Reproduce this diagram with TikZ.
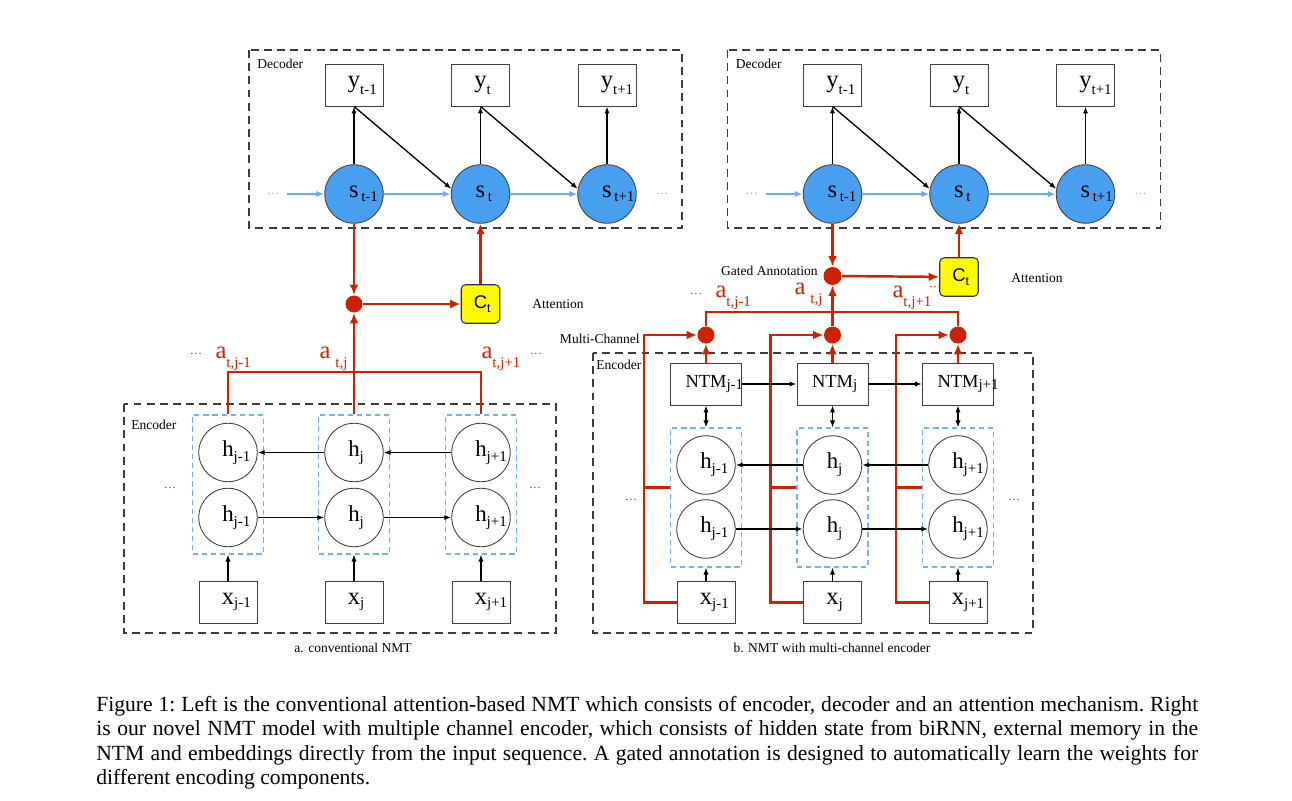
\documentclass[tikz,border=0pt]{standalone}
\usepackage{fontspec}
\setmainfont{Liberation Serif}
\newfontfamily\helv{Liberation Sans}
\usetikzlibrary{arrows.meta, positioning}

\definecolor{attred}{RGB}{204,34,0}
\definecolor{stateblue}{RGB}{74,160,240}
\definecolor{lineblue}{RGB}{95,175,245}
\definecolor{grpblue}{RGB}{110,178,240}
\definecolor{ctxyellow}{RGB}{255,250,0}
\definecolor{framegray}{RGB}{60,60,60}

% letter with hanging subscript
\newcommand{\lbl}[3][3pt]{#2\rlap{\raisebox{-#1}{\fontsize{8.5}{8.5}\selectfont #3}}}
\newcommand{\albl}[2]{{\fontsize{14}{14}\selectfont #1}\rlap{\smash{\raisebox{-5pt}{\fontsize{8.5}{8.5}\selectfont #2}}}}
\newcommand{\ctxlbl}{{\helv\fontsize{10.5}{10.5}\selectfont C\rlap{\raisebox{-2pt}{\fontsize{7}{7}\selectfont t}}}}

\tikzset{
  frame/.style={draw=framegray, dash pattern=on 4.5pt off 3pt, line width=0.6pt},
  grp/.style={draw=grpblue, dash pattern=on 3pt off 2.2pt, line width=0.6pt, minimum width=1.42cm, minimum height=2.78cm, inner sep=0},
  wbox/.style={draw=black!75, minimum width=1.16cm, minimum height=0.84cm, inner sep=0, line width=0.5pt, font=\fontsize{14}{14}\selectfont},
  ntmbox/.style={wbox, minimum width=1.42cm, font=\fontsize{10.5}{10.5}\selectfont},
  hstate/.style={circle, draw=black!75, minimum size=1.17cm, inner sep=0, line width=0.5pt, font=\fontsize{13}{13}\selectfont},
  sstate/.style={hstate, fill=stateblue, font=\fontsize{14}{14}\selectfont},
  ctx/.style={draw=black!80, fill=ctxyellow, rounded corners=2.5pt, minimum size=0.77cm, inner sep=0, line width=0.6pt},
  rdot/.style={circle, fill=attred, minimum size=0.34cm, inner sep=0},
  blk/.style={-{Latex[length=4pt,width=3pt]}, line width=0.75pt},
  dblk/.style={{Latex[length=4pt,width=3pt]}-{Latex[length=4pt,width=3pt]}, line width=0.75pt},
  blu/.style={-{Latex[length=4.5pt,width=3.5pt]}, draw=lineblue, line width=0.9pt},
  attnline/.style={draw=attred, line width=1.4pt},
  attn/.style={attnline, -{Latex[length=6pt,width=5pt]}},
  lab/.style={font=\fontsize{7.7}{9}\selectfont, inner sep=0},
  alab/.style={text=attred, inner sep=0},
  dots/.style={font=\fontsize{7}{7}\selectfont, inner sep=4.5pt, text=black!70}
}

\begin{document}
\begin{tikzpicture}[x=0.02cm, y=-0.02cm]
\useasboundingbox (0,0) rectangle (1292,801);

% decoder, same in both panels
\foreach \p/\dx in {L/0, R/478.5}{
  \draw[frame] (\dx+249,50) rectangle (\dx+682,228);
  \node[lab, anchor=west] (\p dec) at (\dx+257,64) {Decoder};
  \node[wbox] (\p y1) at (\dx+354,85) {\lbl[4pt]{y}{t-1}};
  \node[wbox] (\p y2) at (\dx+480.5,85) {\lbl[4pt]{y}{t}};
  \node[wbox] (\p y3) at (\dx+607,85) {\lbl[4pt]{y}{t+1}};
  \node[sstate] (\p s1) at (\dx+354,194) {\lbl[2pt]{s}{\,t-1}};
  \node[sstate] (\p s2) at (\dx+480.5,194) {\lbl[2pt]{s}{\,t}};
  \node[sstate] (\p s3) at (\dx+607,194) {\lbl[2pt]{s}{\,t+1}};
  \node[dots, text=lineblue] (\p dl) at (\dx+273,194) {\dots};
  \node[dots, text=lineblue] (\p dr) at (\dx+662,194) {\dots};
  \draw[blu] (\p dl) -- (\p s1);
  \draw[blu] (\p s1) -- (\p s2);
  \draw[blu] (\p s2) -- (\p s3);
  \draw[blk] (\p s1) -- (\p y1);
  \draw[blk] (\p s2) -- (\p y2);
  \draw[blk] (\p s3) -- (\p y3);
  \draw[blk] (\p y1.south) -- (\p s2.170);
  \draw[blk] (\p y2.south) -- (\p s3.170);
}

% a. conventional attention
\node[rdot] (Ldot) at (354,304) {};
\node[ctx] (Lctx) at (480.5,304) {\ctxlbl};
\node[lab] (Latt) at (558,304) {Attention};
\draw[attn] (Ls1) -- (Ldot);
\draw[attn] (Ldot) -- (Lctx);
\draw[attn] (Lctx) -- (Ls2);

\draw[frame] (124,404) rectangle (556,633);
\node[lab, anchor=west] (Lenc) at (131,425) {Encoder};
\foreach \i/\cx/\jj in {1/228/j-1, 2/354/j, 3/481/j+1}{
  \node[grp] (Lg\i) at (\cx,484.5) {};
  \node[hstate] (Lhb\i) at (\cx,452.5) {\lbl{h}{\jj}};
  \node[hstate] (Lhf\i) at (\cx,517.5) {\lbl{h}{\jj}};
  \node[wbox] (Lx\i) at (\cx,602) {\lbl[2pt]{x}{\jj}};
  \draw[blk] (Lx\i) -- (Lg\i);
}
\draw[blk] (Lhb2) -- (Lhb1);
\draw[blk] (Lhb3) -- (Lhb2);
\draw[blk] (Lhf1) -- (Lhf2);
\draw[blk] (Lhf2) -- (Lhf3);
\node[dots] (Ldl) at (170,488) {\dots};
\node[dots] (Ldr) at (535,488) {\dots};

\coordinate (Lbar) at (354,372);
\draw[attnline] (Lg1.north) |- (Lbar) -| (Lg3.north);
\draw[attn] (Lg2.north) -- (Ldot);
\node[dots, text=attred] (Lal) at (196,354) {\dots};
\node[alab] (La1) at (221,353) {\albl{a}{t,j-1}};
\node[alab] (La2) at (325,353) {\albl{a}{\,\,t,j}};
\node[alab] (La3) at (487,353) {\albl{a}{t,j+1}};
\node[dots, text=attred] (Lar) at (536,354) {\dots};
\node[lab] (Ltitle) at (353,648) {a. conventional NMT};

% b. multi-channel encoder with gated annotation
\node[rdot, minimum size=0.36cm] (Rdot) at (832.5,276) {};
\node[ctx] (Rctx) at (959,277) {\ctxlbl};
\node[lab, anchor=east] (Rgate) at (818,271) {Gated Annotation};
\node[lab] (Ratt) at (1037,278) {Attention};
\draw[attn] (Rs1) -- (Rdot);
\draw[attn] (Rdot) -- (Rctx);
\draw[attn] (Rctx) -- (Rs2);

\draw[frame] (593,353) rectangle (1033,633);
\node[lab, anchor=west] (Renc) at (596,365) {Encoder};
\node[lab, anchor=east] (Rmc) at (640,339) {Multi-Channel};
\foreach \i/\cx/\jj in {1/706/j-1, 2/832.5/j, 3/958/j+1}{
  \node[rdot] (Rm\i) at (\cx,335) {};
  \node[ntmbox] (Rn\i) at (\cx,384) {\lbl[1pt]{NTM}{\jj}};
  \node[grp] (Rg\i) at (\cx,497.5) {};
  \node[hstate] (Rhb\i) at (\cx,465) {\lbl{h}{\jj}};
  \node[hstate] (Rhf\i) at (\cx,529) {\lbl{h}{\jj}};
  \node[wbox] (Rx\i) at (\cx,602.5) {\lbl[2pt]{x}{\jj}};
  \coordinate (Rc\i) at (\cx-62,335);
  \coordinate (Rk\i) at ([yshift=5.7pt]Rg\i.west);
  \draw[attn] (Rn\i) -- (Rm\i);
  \draw[dblk] (Rn\i) -- (Rg\i);
  \draw[blk] (Rx\i) -- (Rg\i);
  \draw[attn] (Rx\i.west) -| (Rc\i) -- (Rm\i);
  \draw[attnline] (Rk\i) -- (Rk\i -| Rc\i);
}
\draw[blk] (Rn1) -- (Rn2);
\draw[blk] (Rn2) -- (Rn3);
\draw[blk] (Rhb2) -- (Rhb1);
\draw[blk] (Rhb3) -- (Rhb2);
\draw[blk] (Rhf1) -- (Rhf2);
\draw[blk] (Rhf2) -- (Rhf3);
\node[dots] (Rdl) at (631,500) {\dots};
\node[dots] (Rdr) at (1014,500) {\dots};

\coordinate (Rbar) at (832.5,312);
\draw[attnline] (Rm1.north) |- (Rbar) -| (Rm3.north);
\draw[attn] (Rm2) -- (Rdot);
\node[dots, text=attred] (Ral) at (696,294) {\dots};
\node[alab] (Ra1) at (721,292) {\albl{a}{t,j-1}};
\node[alab] (Ra2) at (800,289) {\albl{a}{\,\,t,j}};
\node[alab] (Ra3) at (898,292) {\albl{a}{t,j+1}};
\node[dots, text=attred] (Rar) at (935,287) {\dots};
\node[lab] (Rtitle) at (832,648) {b. NMT with multi-channel encoder};

% caption
\node[anchor=north west, inner sep=0, text width=22.04cm, align=justify,
  font=\frenchspacing\fontsize{12.3}{13.9}\selectfont] (cap) at (96,696) {Figure 1: Left is the conventional attention-based NMT which consists of encoder, decoder and an attention mechanism. Right\linebreak
is our novel NMT model with multiple channel encoder, which consists of hidden state from biRNN, external memory in the\linebreak
NTM and embeddings directly from the input sequence. A gated annotation is designed to automatically learn the weights for\linebreak
different encoding components.};
\end{tikzpicture}
\end{document}
